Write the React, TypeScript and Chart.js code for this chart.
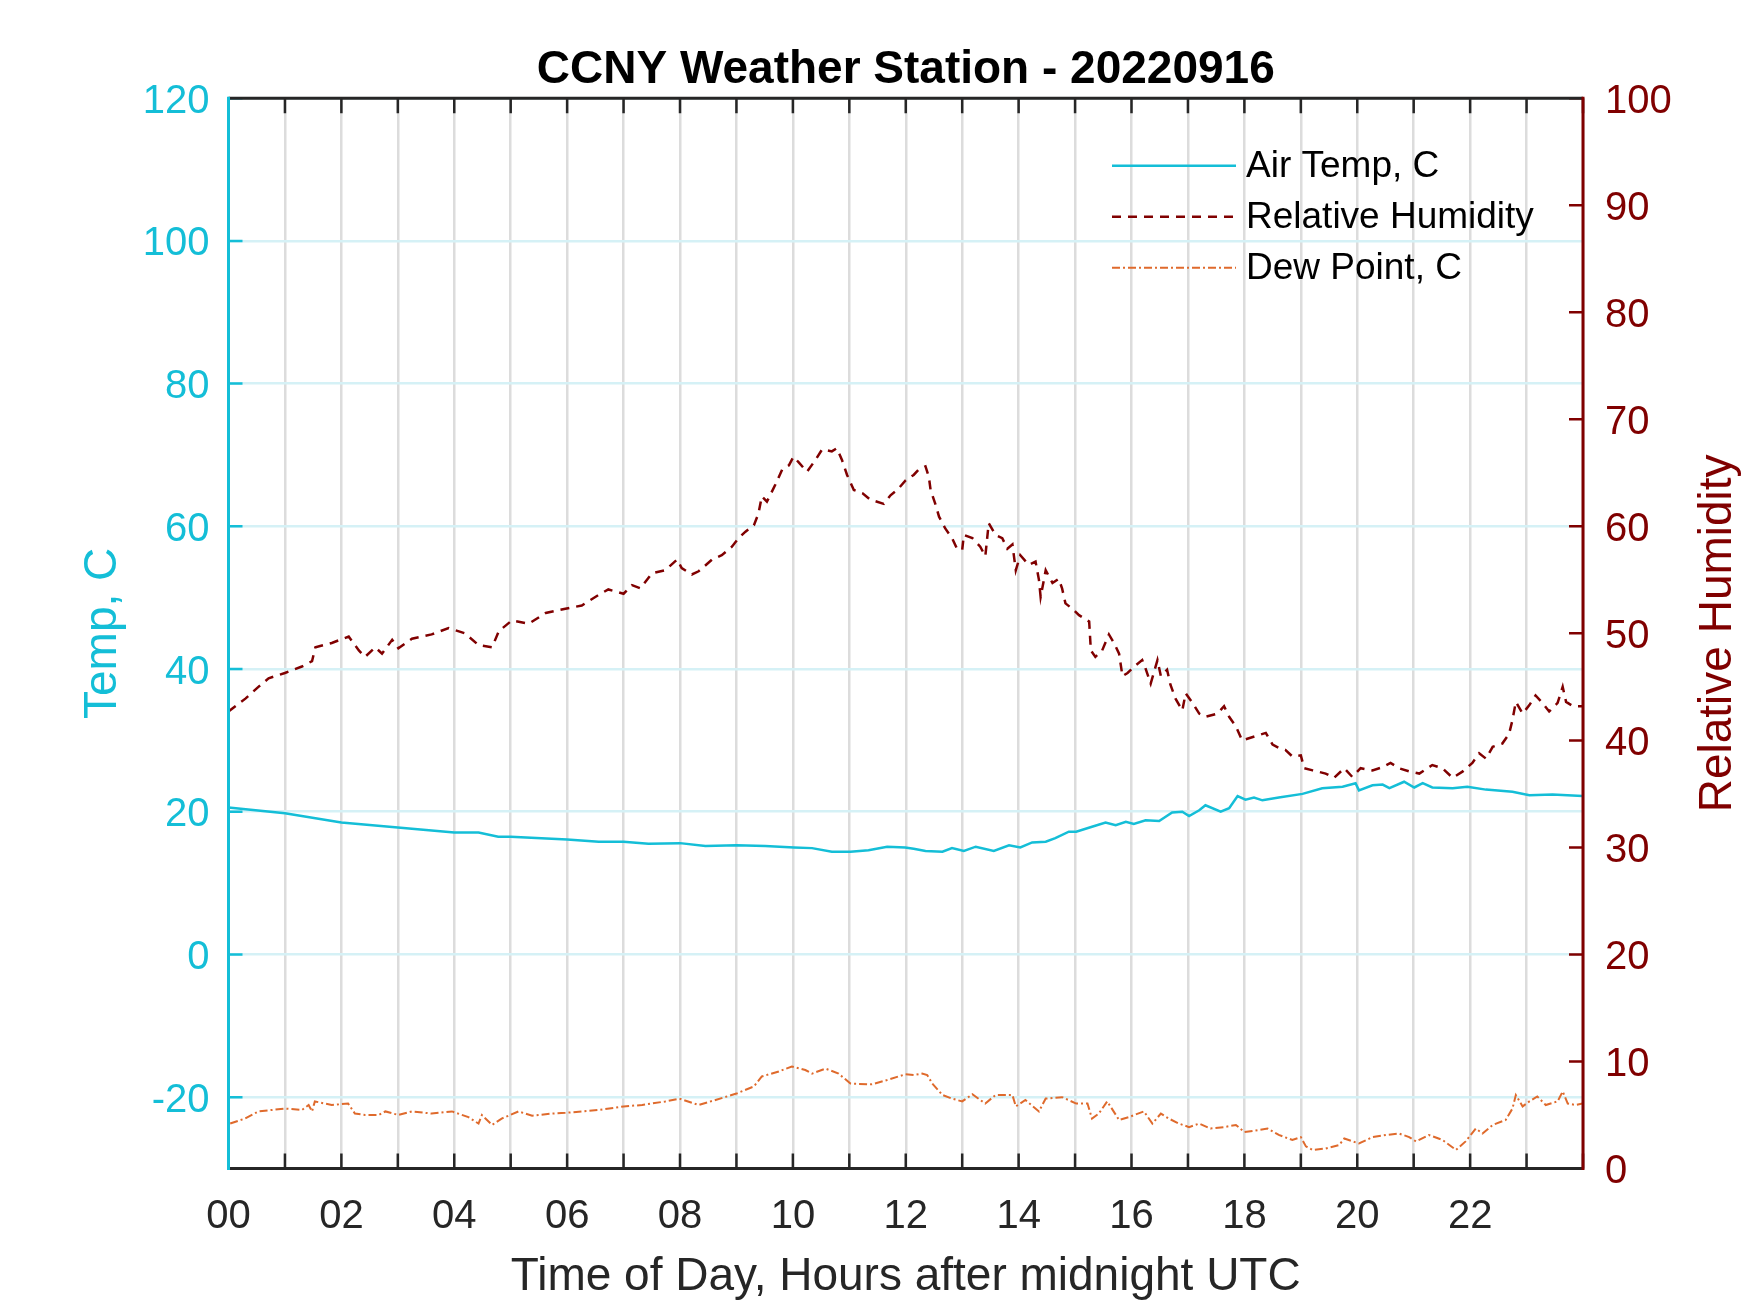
import React, { useEffect, useRef } from 'react';
import { Chart, registerables } from 'chart.js';

Chart.register(...registerables);

const FONT = "'Liberation Sans', Arial, Helvetica, sans-serif";
const CYAN = '#14BED7';
const RED = '#800000';
const ORANGE = '#DF6A2C';
const DARK = '#262626';
const GRID_X = '#DCDCDC';
const GRID_Y = '#D5F1F6';

const chartTitle = 'CCNY Weather Station - 20220916';
const xTitle = 'Time of Day, Hours after midnight UTC';
const leftTitle = 'Temp, C';
const rightTitle = 'Relative Humidity';
const seriesNames = ['Air Temp, C', 'Relative Humidity', 'Dew Point, C'];

// Air temperature, C (left axis)
const tempHours = [
  0.0, 1.0, 2.0, 3.0, 4.0, 4.43, 4.78, 5.0, 6.0, 6.56, 7.0, 7.44, 8.0, 8.45, 9.0, 9.51,
  10.02, 10.34, 10.69, 11.02, 11.34, 11.67, 11.99, 12.14, 12.35, 12.65, 12.82, 13.03, 13.24,
  13.56, 13.83, 14.03, 14.24, 14.48, 14.65, 14.89, 15.02, 15.3, 15.54, 15.72, 15.9, 16.04,
  16.25, 16.49, 16.72, 16.9, 17.02, 17.2, 17.31, 17.58, 17.73, 17.88, 18.02, 18.17, 18.32,
  18.61, 19.03, 19.38, 19.74, 19.97, 20.03, 20.27, 20.45, 20.57, 20.83, 21.01, 21.16, 21.33,
  21.69, 21.95, 22.28, 22.75, 23.05, 23.46, 23.99,
];
const tempC = [
  20.6, 19.8, 18.5, 17.8, 17.1, 17.1, 16.5, 16.5, 16.1, 15.8, 15.8, 15.5, 15.6, 15.2, 15.3, 15.2,
  15.0, 14.9, 14.4, 14.4, 14.6, 15.1, 15.0, 14.8, 14.5, 14.4, 14.9, 14.5, 15.1,
  14.5, 15.3, 15.0, 15.7, 15.8, 16.3, 17.2, 17.2, 17.9, 18.5, 18.1, 18.6, 18.3,
  18.8, 18.7, 19.9, 20.0, 19.4, 20.2, 20.9, 20.0, 20.5, 22.2, 21.7, 22.0, 21.6,
  22.0, 22.5, 23.3, 23.5, 24.0, 23.0, 23.7, 23.8, 23.3, 24.2, 23.4, 24.0, 23.4,
  23.3, 23.5, 23.1, 22.8, 22.3, 22.4, 22.2,
];

// Relative humidity, % (right axis)
const rhHours = [
  0.0, 0.3, 0.53, 0.71, 1.0, 1.3, 1.48, 1.54, 1.83, 2.13, 2.31, 2.42, 2.6, 2.72, 2.9, 3.01,
  3.25, 3.6, 3.9, 4.19, 4.43, 4.67, 4.79, 5.02, 5.32, 5.62, 5.97, 6.26, 6.56, 6.73, 7.0, 7.15,
  7.3, 7.5, 7.74, 7.95, 8.03, 8.21, 8.33, 8.57, 8.74, 8.92, 9.04, 9.16, 9.31, 9.39, 9.45, 9.54,
  9.69, 9.81, 9.93, 10.01, 10.1, 10.25, 10.4, 10.52, 10.69, 10.78, 10.87, 10.96, 11.08, 11.23,
  11.37, 11.61, 11.73, 11.85, 12.0, 12.14, 12.23, 12.35, 12.41, 12.44, 12.53, 12.59, 12.7,
  12.82, 12.91, 13.0, 13.03, 13.18, 13.32, 13.41, 13.47, 13.59, 13.71, 13.8, 13.89, 13.95,
  14.03, 14.18, 14.3, 14.36, 14.39, 14.48, 14.6, 14.71, 14.77, 14.83, 14.95, 15.07, 15.25,
  15.28, 15.36, 15.48, 15.6, 15.69, 15.78, 15.84, 15.93, 16.07, 16.19, 16.25, 16.34, 16.46,
  16.52, 16.63, 16.69, 16.78, 16.9, 16.96, 17.08, 17.2, 17.31, 17.52, 17.64, 17.73, 17.85,
  17.96, 18.08, 18.26, 18.38, 18.5, 18.61, 18.73, 18.85, 19.0, 19.06, 19.21, 19.44, 19.59,
  19.77, 19.91, 20.06, 20.27, 20.45, 20.59, 20.74, 20.92, 21.1, 21.33, 21.51, 21.69, 21.87,
  22.04, 22.16, 22.28, 22.4, 22.57, 22.69, 22.75, 22.81, 22.93, 23.05, 23.16, 23.28, 23.4,
  23.55, 23.64, 23.7, 23.82, 23.99,
];
const rhPct = [
  42.7, 43.9, 45.0, 45.8, 46.3, 46.9, 47.4, 48.7, 49.1, 49.7, 48.4, 47.8, 48.7, 48.1, 49.4, 48.6,
  49.5, 49.9, 50.5, 50.0, 48.9, 48.7, 50.2, 51.2, 50.9, 51.9, 52.3, 52.6, 53.6, 54.1, 53.7, 54.5,
  54.2, 55.6, 55.9, 56.9, 56.1, 55.5, 55.8, 56.9, 57.3, 58.1, 58.9, 59.5, 60.1, 61.2, 62.8, 62.3,
  63.9, 65.3, 65.7, 66.5, 66.0, 65.1, 66.2, 67.2, 67.0, 67.3, 66.2, 64.8, 63.4, 63.1,
  62.5, 62.1, 62.9, 63.4, 64.3, 64.8, 65.3, 65.6, 64.6, 63.4, 62.0, 60.9, 59.8,
  58.9, 57.9, 57.8, 59.2, 58.9, 58.1, 57.2, 60.3, 59.2, 58.9, 57.9, 58.3, 55.9,
  57.3, 56.4, 56.7, 55.0, 53.4, 55.9, 54.7, 55.1, 54.2, 52.8, 52.3, 51.7, 51.1,
  48.4, 47.8, 48.4, 49.9, 49.1, 48.1, 46.0, 46.3, 47.0, 47.5, 46.7, 45.3, 47.5,
  46.0, 46.6, 45.2, 43.9, 42.8, 44.4, 43.5, 42.5, 42.2, 42.5, 43.2, 42.2, 41.3,
  40.0, 40.2, 40.5, 40.7, 39.6, 39.3, 39.1, 38.5, 38.6, 37.4, 37.2, 36.9, 36.5,
  37.4, 36.6, 37.4, 37.2, 37.5, 37.9, 37.4, 37.1, 36.9, 37.7, 37.4, 36.5, 37.1,
  37.9, 38.8, 38.3, 39.4, 39.7, 40.6, 41.9, 43.6, 42.5, 43.3, 44.2, 43.5, 42.7,
  43.5, 45.0, 43.6, 43.2, 43.2,
];

// Dew point, C (left axis)
const dewHours = [
  0.03, 0.29, 0.53, 1.0, 1.3, 1.42, 1.48, 1.53, 1.83, 2.12, 2.24, 2.42, 2.66, 2.78, 3.01, 3.25,
  3.6, 3.96, 4.25, 4.43, 4.49, 4.67, 4.84, 5.14, 5.38, 5.73, 5.97, 6.56, 7.0, 7.33, 7.74, 7.99,
  8.33, 8.63, 9.0, 9.31, 9.45, 9.75, 9.98, 10.22, 10.34, 10.58, 10.81, 11.02, 11.4, 11.67,
  11.99, 12.14, 12.29, 12.38, 12.47, 12.65, 12.82, 13.0, 13.18, 13.41, 13.59, 13.89, 13.95,
  14.12, 14.36, 14.48, 14.77, 15.02, 15.22, 15.3, 15.42, 15.57, 15.78, 15.95, 16.22, 16.37,
  16.52, 16.66, 16.84, 17.02, 17.2, 17.4, 17.64, 17.85, 18.0, 18.26, 18.41, 18.61, 18.85,
  19.0, 19.09, 19.21, 19.44, 19.68, 19.77, 20.03, 20.27, 20.51, 20.74, 20.92, 21.04, 21.27,
  21.51, 21.75, 21.92, 22.1, 22.22, 22.4, 22.63, 22.75, 22.81, 22.93, 23.05, 23.19, 23.34,
  23.55, 23.64, 23.73, 23.87, 23.99,
];
const dewC = [
  -23.7, -23.0, -22.0, -21.6, -21.8, -21.1, -22.0, -20.6, -21.1, -20.9, -22.3, -22.5, -22.5, -22.0, -22.5, -22.0,
  -22.3, -22.0, -22.8, -23.7, -22.5, -23.9, -23.0, -22.0, -22.6, -22.3, -22.2, -21.8, -21.3, -21.1, -20.6, -20.2,
  -21.1, -20.4, -19.5, -18.5, -17.1, -16.4, -15.7, -16.2, -16.7, -16.0, -16.7, -18.1, -18.2, -17.6,
  -16.8, -16.9, -16.7, -16.9, -18.1, -19.7, -20.2, -20.6, -19.6, -20.9, -19.7, -19.7, -21.3,
  -20.4, -22.0, -20.2, -20.0, -20.9, -20.9, -23.0, -22.3, -20.6, -23.2, -22.8, -22.0, -23.7,
  -22.3, -23.0, -23.7, -24.2, -23.7, -24.4, -24.2, -23.9, -24.9, -24.6, -24.4, -25.3, -26.0,
  -25.6, -26.9, -27.4, -27.2, -26.7, -25.8, -26.5, -25.6, -25.3, -25.1, -25.6, -26.2, -25.3,
  -26.0, -27.4, -26.2, -24.4, -25.1, -23.9, -23.2, -21.6, -19.7, -21.3, -20.6, -19.9, -21.1,
  -20.6, -19.2, -20.9, -21.1, -20.9,
];

const toPoints = (xs: number[], ys: number[]) => xs.map((x, i) => ({ x, y: ys[i] }));

const matlabPlugin = {
  id: 'matlabAxes',
  afterDraw(chart: any) {
    const { ctx, chartArea: a, scales } = chart;
    const xs = scales.x;
    const yl = scales.y;
    const yr = scales.y1;
    ctx.save();
    ctx.lineCap = 'butt';

    // inward x ticks (bottom and top)
    ctx.strokeStyle = DARK;
    ctx.lineWidth = 2.5;
    ctx.beginPath();
    xs.ticks.forEach((t: any) => {
      const px = xs.getPixelForValue(t.value);
      ctx.moveTo(px, a.bottom);
      ctx.lineTo(px, a.bottom - 15);
      ctx.moveTo(px, a.top);
      ctx.lineTo(px, a.top + 15);
    });
    ctx.stroke();

    // left ticks
    ctx.strokeStyle = CYAN;
    ctx.beginPath();
    yl.ticks.forEach((t: any) => {
      const py = yl.getPixelForValue(t.value);
      ctx.moveTo(a.left, py);
      ctx.lineTo(a.left + 14, py);
    });
    ctx.stroke();

    // right ticks
    ctx.strokeStyle = RED;
    ctx.beginPath();
    yr.ticks.forEach((t: any) => {
      const py = yr.getPixelForValue(t.value);
      ctx.moveTo(a.right, py);
      ctx.lineTo(a.right - 14, py);
    });
    ctx.stroke();

    // axis lines
    ctx.lineWidth = 3;
    ctx.strokeStyle = DARK;
    ctx.beginPath();
    ctx.moveTo(a.left, a.top);
    ctx.lineTo(a.right, a.top);
    ctx.moveTo(a.left, a.bottom);
    ctx.lineTo(a.right, a.bottom);
    ctx.stroke();
    ctx.strokeStyle = CYAN;
    ctx.beginPath();
    ctx.moveTo(a.left, a.top - 1.5);
    ctx.lineTo(a.left, a.bottom + 1.5);
    ctx.stroke();
    ctx.strokeStyle = RED;
    ctx.beginPath();
    ctx.moveTo(a.right, a.top - 1.5);
    ctx.lineTo(a.right, a.bottom + 1.5);
    ctx.stroke();

    // y tick labels (taken from the scales' own ticks)
    ctx.font = `40px ${FONT}`;
    ctx.textBaseline = 'middle';
    ctx.fillStyle = CYAN;
    ctx.textAlign = 'right';
    yl.ticks.forEach((t: any) => {
      ctx.fillText(String(t.value), a.left - 19, yl.getPixelForValue(t.value) + 3.5);
    });
    ctx.fillStyle = RED;
    ctx.textAlign = 'left';
    yr.ticks.forEach((t: any) => {
      ctx.fillText(String(t.value), a.right + 22, yr.getPixelForValue(t.value) + 3.5);
    });

    // right axis title (reads bottom to top, like the left one)
    ctx.save();
    ctx.translate(a.right + 135, (a.top + a.bottom) / 2);
    ctx.rotate(-Math.PI / 2);
    ctx.fillStyle = RED;
    ctx.font = `46px ${FONT}`;
    ctx.textAlign = 'center';
    ctx.textBaseline = 'middle';
    ctx.fillText(rightTitle, 0, 0);
    ctx.restore();

    // legend (no box)
    const rows = [a.top + 67.5, a.top + 118.5, a.top + 169.5];
    const lx0 = a.right - 471;
    const lx1 = a.right - 347;
    chart.data.datasets.forEach((ds: any, i: number) => {
      const y = rows[i];
      ctx.save();
      ctx.strokeStyle = ds.borderColor;
      ctx.lineWidth = ds.borderWidth;
      ctx.setLineDash(ds.borderDash || []);
      ctx.beginPath();
      ctx.moveTo(lx0, y);
      ctx.lineTo(lx1, y);
      ctx.stroke();
      ctx.restore();
      ctx.fillStyle = '#000000';
      ctx.font = `37px ${FONT}`;
      ctx.textAlign = 'left';
      ctx.textBaseline = 'middle';
      ctx.fillText(ds.label, lx1 + 10, y + 1.5);
    });

    ctx.restore();
  },
};

export default function App() {
  const canvasRef = useRef<HTMLCanvasElement | null>(null);

  useEffect(() => {
    document.body.style.margin = '0';
    const canvas = canvasRef.current;
    if (!canvas) return;
    const tickFont = { family: FONT, size: 40 };
    const labelFont = { family: FONT, size: 46 };
    const chart = new Chart(canvas, {
      type: 'line',
      data: {
        datasets: [
          {
            label: seriesNames[0],
            data: toPoints(tempHours, tempC),
            borderColor: CYAN,
            borderWidth: 2.5,
            pointRadius: 0,
            tension: 0,
            yAxisID: 'y',
          },
          {
            label: seriesNames[1],
            data: toPoints(rhHours, rhPct),
            borderColor: RED,
            borderWidth: 2.5,
            borderDash: [9, 7],
            pointRadius: 0,
            tension: 0,
            yAxisID: 'y1',
          },
          {
            label: seriesNames[2],
            data: toPoints(dewHours, dewC),
            borderColor: ORANGE,
            borderWidth: 2,
            borderDash: [8, 3, 2, 3],
            pointRadius: 0,
            tension: 0,
            yAxisID: 'y',
          },
        ],
      },
      options: {
        animation: false,
        responsive: false,
        devicePixelRatio: 1,
        layout: { padding: 0 },
        plugins: {
          legend: { display: false },
          tooltip: { enabled: false },
          title: {
            display: true,
            text: chartTitle,
            color: '#000000',
            font: { family: FONT, size: 46, weight: 'bold', lineHeight: 1.0 },
            padding: { top: 47.7, bottom: 4.5 },
            fullSize: false,
          },
        },
        scales: {
          x: {
            type: 'linear',
            position: 'bottom',
            min: 0,
            max: 24,
            ticks: {
              stepSize: 1,
              autoSkip: false,
              maxRotation: 0,
              padding: 24.5,
              color: DARK,
              font: tickFont,
              callback: (v: any) => {
                const n = Number(v);
                return n % 2 === 0 && n < 24 ? String(n).padStart(2, '0') : '';
              },
            },
            grid: { color: GRID_X, lineWidth: 2.5, drawTicks: false },
            border: { display: false },
            title: {
              display: true,
              text: xTitle,
              color: DARK,
              font: labelFont,
              padding: { top: 0, bottom: 8.4 },
            },
            afterFit: (s: any) => {
              s.height = 144.5;
            },
          },
          y: {
            type: 'linear',
            position: 'left',
            min: -30,
            max: 120,
            ticks: {
              stepSize: 20,
              includeBounds: false,
              display: false,
            },
            grid: { color: GRID_Y, lineWidth: 2.5, drawTicks: false },
            border: { display: false },
            title: {
              display: true,
              text: leftTitle,
              color: CYAN,
              font: labelFont,
              padding: { top: 75.4, bottom: 0 },
            },
            afterFit: (s: any) => {
              s.width = 228.5;
            },
          },
          y1: {
            type: 'linear',
            position: 'right',
            min: 0,
            max: 100,
            ticks: {
              stepSize: 10,
              display: false,
            },
            grid: { drawOnChartArea: false, drawTicks: false },
            border: { display: false },
            afterFit: (s: any) => {
              s.width = 167;
            },
          },
        },
      },
      plugins: [matlabPlugin],
    } as any);
    return () => chart.destroy();
  }, []);

  return (
    <div style={{ position: 'absolute', left: 0, top: 0, width: 1750, height: 1313, background: '#ffffff' }}>
      <canvas ref={canvasRef} width={1750} height={1313} style={{ display: 'block' }} />
    </div>
  );
}
